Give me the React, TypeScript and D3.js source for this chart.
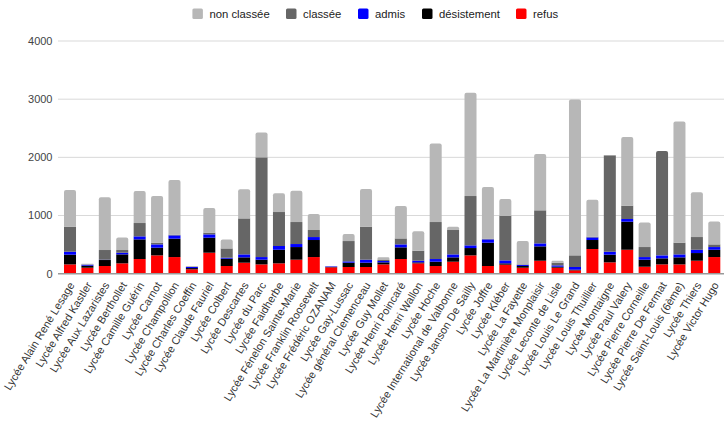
import React from "react";
import * as d3 from "d3";

const categories = [
  "Lycée Alain René Lesage", "Lycée Alfred Kastler", "Lycée Aux Lazaristes", "Lycée Berthollet",
  "Lycée Camille Guérin", "Lycée Carnot", "Lycée Champollion", "Lycée Charles Coeffin",
  "Lycée Claude Fauriel", "Lycée Colbert", "Lycée Descartes", "Lycée du Parc",
  "Lycée Faidherbe", "Lycée Fénelon Sainte-Marie", "Lycée Franklin Roosevelt", "Lycée Frédéric OZANAM",
  "Lycée Gay-Lussac", "Lycée général Clemenceau", "Lycée Guy Mollet", "Lycée Henri Poincaré",
  "Lycée Henri Wallon", "Lycée Hoche", "Lycée International de Valbonne", "Lycée Janson De Sailly",
  "Lycée Joffre", "Lycée Kléber", "Lycée La Fayette", "Lycée La Martinière Monplaisir",
  "Lycée Leconte de Lisle", "Lycée Louis Le Grand", "Lycée Louis Thuillier", "Lycée Montaigne",
  "Lycée Paul Valery", "Lycée Pierre Corneille", "Lycée Pierre De Fermat", "Lycée Saint-Louis (6ème)",
  "Lycée Thiers", "Lycée Victor Hugo",
];

const refus = [160, 103, 132, 178, 252, 315, 286, 75, 361, 132, 189, 160, 178, 241, 286, 109, 115, 115, 160, 252, 178, 132, 206, 315, 132, 155, 103, 223, 103, 57, 424, 195, 412, 120, 160, 160, 223, 286];
const desistement = [167, 35, 103, 154, 338, 132, 316, 22, 258, 126, 92, 81, 234, 217, 293, 6, 74, 74, 35, 201, 17, 74, 75, 126, 401, 23, 29, 247, 17, 12, 155, 132, 482, 121, 104, 121, 132, 126];
const admis = [51, 17, 5, 29, 52, 57, 57, 18, 57, 17, 51, 45, 64, 52, 51, 11, 23, 52, 23, 51, 28, 46, 51, 46, 57, 51, 17, 51, 23, 46, 45, 51, 46, 45, 51, 51, 57, 46];
const classee = [430, 5, 167, 46, 229, 29, 11, 5, 29, 160, 619, 1714, 584, 378, 121, 0, 349, 567, 17, 103, 172, 636, 419, 848, 12, 768, 11, 568, 46, 200, 12, 1656, 229, 172, 1793, 201, 218, 46];
const nonClassee = [630, 10, 905, 217, 550, 802, 940, 12, 424, 155, 499, 429, 321, 539, 275, 6, 121, 647, 46, 556, 333, 1352, 57, 1776, 888, 286, 401, 968, 34, 2681, 636, 5, 1180, 424, 0, 2085, 768, 395];

const seriesNames = ["refus", "désistement", "admis", "classée", "non classée"];
const seriesValues = [refus, desistement, admis, classee, nonClassee];
const seriesColors = ["#ff0000", "#000000", "#0000ff", "#666666", "#b7b7b7"];
const legendOrder = [4, 3, 2, 1, 0];
const yTicks = [0, 1000, 2000, 3000, 4000];

export default function App() {
  const W = 727, H = 429;
  const y = d3.scaleLinear().domain([0, 4000]).range([273.7, 41]);
  const x = d3.scaleBand<string>().domain(categories).range([61.3, 723]).paddingInner(0.31).paddingOuter(0.155);
  const rows = categories.map((c, i) => {
    const r: any = { cat: c };
    seriesNames.forEach((s, k) => (r[s] = seriesValues[k][i]));
    return r;
  });
  const stacked = d3.stack<any>().keys(seriesNames)(rows);
  const bw = x.bandwidth();
  const font = "Arial, 'Liberation Sans', sans-serif";

  const legendPos = [192.4, 286, 358, 422, 516];

  return (
    <svg width={W} height={H} style={{ position: "absolute", left: 0, top: 0, background: "#fff" }} fontFamily={font}>
      {yTicks.map((t) => (
        <g key={t}>
          {t > 0 && <line x1={58} x2={724} y1={y(t)} y2={y(t)} stroke="#d9d9d9" strokeWidth={1} />}
          <text x={52.5} y={y(t)} dy="0.36em" textAnchor="end" fontSize={11} fill="#444">{t}</text>
        </g>
      ))}
      {stacked.map((layer, k) => (
        <g key={layer.key} fill={seriesColors[k]}>
          {layer.map((d, i) => {
            const v = d[1] - d[0];
            if (v <= 0) return null;
            const x0 = x(categories[i])!;
            const top = y(d[1]);
            const bot = y(d[0]);
            let isTop = true;
            for (let j = k + 1; j < seriesValues.length; j++) if (seriesValues[j][i] > 0) isTop = false;
            if (isTop) {
              const r = Math.min(2, (bot - top) / 2);
              const p = `M${x0},${bot}V${top + r}Q${x0},${top} ${x0 + r},${top}H${x0 + bw - r}Q${x0 + bw},${top} ${x0 + bw},${top + r}V${bot}Z`;
              return <path key={i} d={p} />;
            }
            return <rect key={i} x={x0} y={top} width={bw} height={bot - top} />;
          })}
        </g>
      ))}
      <line x1={58} x2={724} y1={y(0)} y2={y(0)} stroke="#999" strokeWidth={1.5} />
      {categories.map((c) => {
        const cx = x(c)! + bw / 2;
        return (
          <text key={c} transform={`translate(${cx + 5},${285}) rotate(-58.5)`} textAnchor="end" fontSize={11} fill="#333">{c}</text>
        );
      })}
      {legendOrder.map((k, idx) => (
        <g key={k} transform={`translate(${legendPos[idx]},0)`}>
          <rect x={0} y={8.5} width={10.5} height={10.5} rx={1.5} fill={seriesColors[k]} />
          <text x={17} y={17.8} fontSize={11.3} fill="#222">{seriesNames[k]}</text>
        </g>
      ))}
    </svg>
  );
}
